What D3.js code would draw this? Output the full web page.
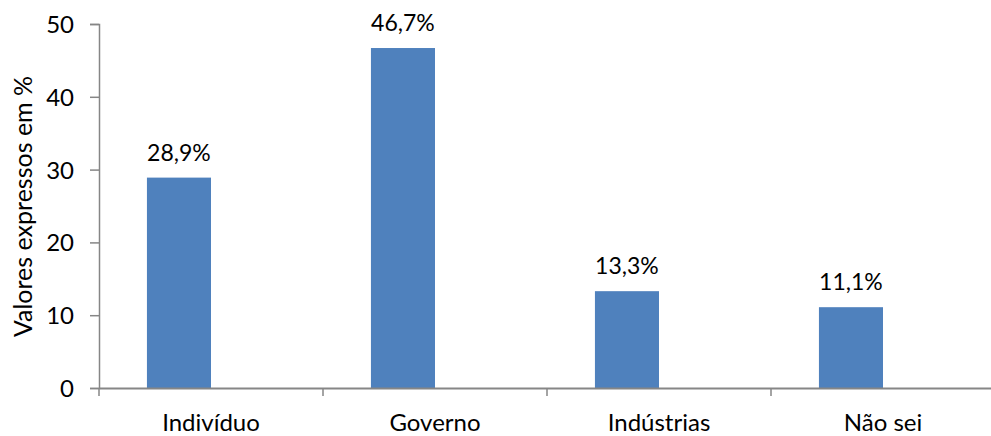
<!DOCTYPE html>
<html><head><meta charset="utf-8">
<script src="https://cdn.jsdelivr.net/npm/d3@7"></script>
<style>body{margin:0;background:#fff}svg{display:block}text{font-family:Lato,"Open Sans",sans-serif;fill:#000}</style>
</head><body>
<script>
const categories = ["Indivíduo","Governo","Indústrias","Não sei"];
const values = [28.9, 46.7, 13.3, 11.1];
const valueLabels = ["28,9%","46,7%","13,3%","11,1%"];
const yTicks = [0,10,20,30,40,50];
const yTitle = "Valores expressos em %";

const W=991,H=436;
const left=99, baseY=388, topY=24;
const svg=d3.select("body").append("svg").attr("width",W).attr("height",H);
const x=d3.scaleBand().domain(categories).range([left,left+4*224]).padding(0);
const y=d3.scaleLinear().domain([0,50]).range([baseY,topY]);
const axisCol="#868686";

// bars
const bw=x.bandwidth();
svg.selectAll("rect.bar").data(values).join("rect")
  .attr("x",(d,i)=>x(categories[i])+bw*0.214)
  .attr("width",bw*0.286)
  .attr("y",d=>y(d)).attr("height",d=>baseY-y(d))
  .attr("fill","#4F81BD");

svg.selectAll("text.val").data(values).join("text")
  .attr("x",(d,i)=>x(categories[i])+bw*0.214+bw*0.143)
  .attr("y",d=>y(d)-17)
  .attr("text-anchor","middle").attr("font-size",23)
  .text((d,i)=>valueLabels[i]);

// y axis
const ya=svg.append("g").attr("transform",`translate(${left},0)`)
  .call(d3.axisLeft(y).tickValues(yTicks).tickSize(9).tickPadding(16).tickFormat(d3.format("d")));
ya.select(".domain").attr("stroke",axisCol).attr("stroke-width",1.5);
ya.selectAll(".tick line").attr("stroke",axisCol).attr("stroke-width",1.5);
ya.selectAll(".tick text").attr("font-size",24).attr("font-family","Lato").attr("fill","#000").attr("dy","0.35em");

// x axis
const xa=svg.append("g").attr("transform",`translate(0,${baseY})`)
  .call(d3.axisBottom(x).tickSize(0).tickPadding(0));
xa.select(".domain").attr("stroke",axisCol).attr("stroke-width",2);
xa.selectAll(".tick text").attr("font-size",24).attr("font-family","Lato").attr("fill","#000")
  .attr("dy",null).attr("y",43);
// category boundary ticks
svg.append("g").selectAll("line").data(categories).join("line")
  .attr("x1",(d)=>x(d)).attr("x2",(d)=>x(d))
  .attr("y1",baseY).attr("y2",baseY+8)
  .attr("stroke",axisCol).attr("stroke-width",1.5);

svg.append("text").attr("transform",`translate(32,206.5) rotate(-90)`)
  .attr("text-anchor","middle").attr("font-size",25).text(yTitle);
</script>
</body></html>
